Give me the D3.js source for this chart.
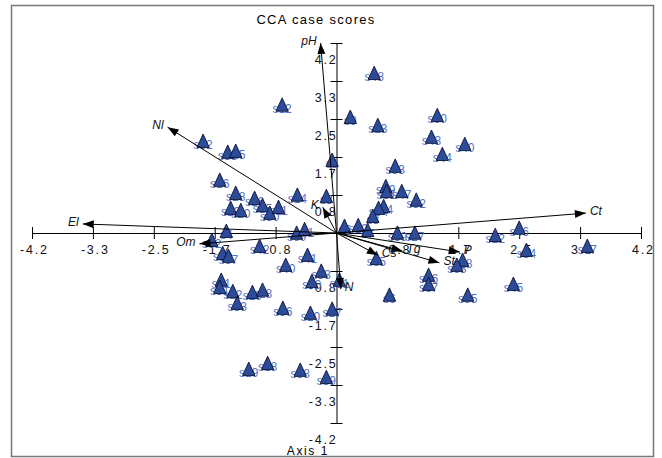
<!DOCTYPE html>
<html>
<head>
  <meta charset="utf-8">
  <script src="https://d3js.org/d3.v7.min.js"></script>
  <style>
  body {
    margin: 0;
    background: #fff;
  }
  svg text {
    font-family: "Liberation Sans", Arial, sans-serif;
  }
  .axis text {
    font-size: 12.5px;
    letter-spacing: 1.8px;
    fill: #111;
  }
  .axis line, .axis path {
    stroke: #000;
    stroke-width: 1;
  }
  .site-label {
    font-size: 12px;
    fill: #5572c9;
  }
  .site {
    fill: #2d4b9b;
    stroke: #0b1330;
    stroke-width: 0.8;
  }
  .env-label {
    font-size: 12px;
    font-style: italic;
    fill: #111;
  }
</style>
</head>
<body>
<script>

  // site scores (axis 1, axis 2)
  var siteNames = [
    "s12","s52","s35","s25","s16","s28","s13","s20","s26","s15",
    "s30","s11","s14","s3","s2","s4","s62","s42","s60","s61",
    "s50","s57","s41","s40","s33","s70","s41","s51","s22","s33",
    "s29","s28","s36","s10","s17","s29","s18","s38","s39",
    "s48","s9","s23","s60","s43","s40","s44","s53","s19","s31",
    "s47","s32","s54","s64","s8","s10","s5","s7","s69","s27",
    "s22","s46","s34","s37","s18","s63","s56","s67","s45","s55",
    "s6","s65","s21"
  ];
  var axis1 = [
    -0.75,-1.84,-1.50,-1.39,-1.61,-1.39,-1.46,-1.32,-1.13,-1.02,
    -0.92,-0.80,-0.54,-0.14,-0.06,-1.52,-1.72,-1.06,-0.55,-0.44,
    -1.57,-1.49,-0.40,-0.70,-0.21,-0.34,-1.59,-1.61,-1.43,-1.37,
    -1.16,-1.02,-0.74,-0.36,-0.06,-1.21,-0.95,-0.50,-0.14,
    0.52,0.19,0.57,1.39,1.31,1.77,1.46,0.81,0.68,0.69,
    0.90,1.10,0.65,0.58,0.50,0.30,0.11,0.43,0.84,1.08,
    2.19,2.52,2.62,3.46,1.74,1.66,1.27,1.27,2.44,1.81,
    0.73,0.55,0.04
  ];
  var axis2 = [
    2.79,1.99,1.75,1.77,1.13,0.84,0.51,0.46,0.73,0.57,
    0.40,0.53,0.80,0.77,1.57,0.00,-0.20,-0.33,-0.04,0.04,
    -0.49,-0.55,-0.53,-0.75,-0.88,-1.11,-1.08,-1.24,-1.33,-1.59,
    -1.35,-1.30,-1.70,-1.81,-1.72,-3.05,-2.92,-3.07,-3.23,
    3.49,2.52,2.34,2.56,2.08,1.92,1.70,1.44,0.99,0.88,
    0.88,0.69,0.55,0.51,0.33,0.13,0.11,0.02,-0.04,-0.04,
    -0.09,0.07,-0.42,-0.33,-0.64,-0.75,-0.97,-1.17,-1.17,-1.41,
    -1.41,-0.60,-1.08
  ];

  // environmental variables (biplot arrows)
  var envNames = ["pH","Nl","El","Om","K","Ct","Cs","Tg","P","St","N"];
  var envAxis1 = [-0.22,-2.33,-3.50,-1.89,-0.19,3.44,0.57,0.91,1.70,1.42,0.06];
  var envAxis2 = [4.20,2.34,0.20,-0.24,0.57,0.44,-0.49,-0.40,-0.42,-0.66,-1.24];

  var tickValues = [-4.2,-3.36,-2.52,-1.68,-0.84,0,0.84,1.68,2.52,3.36,4.2];
  var tickLabels = ["-4.2","-3.3","-2.5","-1.7","-0.8","","0.8","1.7","2.5","3.3","4.2"];

  var width = 662, height = 458;

  var svg = d3.select("body").append("svg")
    .attr("width", width)
    .attr("height", height);

  var x = d3.scaleLinear().domain([-4.2, 4.2]).range([32, 641]);
  var y = d3.scaleLinear().domain([-4.2, 4.2]).range([423, 43]);

  // frame
  svg.append("rect")
    .attr("x", 11.5).attr("y", 5.5)
    .attr("width", 642).attr("height", 451)
    .attr("fill", "none")
    .attr("stroke", "#777")
    .attr("stroke-width", 1.5);

  svg.append("text")
    .attr("x", 316).attr("y", 24)
    .attr("text-anchor", "middle")
    .style("font-size", "13px")
    .style("letter-spacing", "1.3px")
    .text("CCA case scores");

  var xAxis = d3.axisBottom(x).tickValues(tickValues)
    .tickFormat((d, i) => tickLabels[i]).tickSizeInner(0).tickSizeOuter(0);
  var yAxis = d3.axisLeft(y).tickValues(tickValues)
    .tickFormat((d, i) => tickLabels[i]).tickSizeInner(0).tickSizeOuter(0);

  var gx = svg.append("g")
    .attr("class", "axis")
    .attr("transform", "translate(0," + y(0) + ")")
    .call(xAxis);
  gx.selectAll(".tick line").attr("y1", -6).attr("y2", 6)
    .filter(d => d === 0).remove();
  gx.selectAll(".tick text").attr("y", 21).attr("dy", null)
    .attr("dx", "0.15em");

  var gy = svg.append("g")
    .attr("class", "axis")
    .attr("transform", "translate(" + x(0) + ",0)")
    .call(yAxis);
  gy.selectAll(".tick line").attr("x1", -6).attr("x2", 6)
    .filter(d => d === 0).remove();
  gy.selectAll(".tick text").attr("x", 1).attr("y", 20).attr("dy", null);
  gx.select(".domain").attr("fill", "none");
  gy.select(".domain").attr("fill", "none");

  svg.append("text")
    .attr("x", 308).attr("y", 455)
    .attr("text-anchor", "middle")
    .style("font-size", "12px")
    .style("letter-spacing", "1.6px")
    .text("Axis 1");

  var sites = siteNames.map((n, i) => ({name: n, a1: axis1[i], a2: axis2[i]}));

  svg.selectAll(".site-label")
    .data(sites)
    .enter().append("text")
    .attr("class", "site-label")
    .attr("x", d => x(d.a1))
    .attr("y", d => y(d.a2) + 6)
    .attr("text-anchor", "middle")
    .text(d => d.name);

  var tri = d3.symbol().type(d3.symbolTriangle).size(66);
  svg.selectAll(".site")
    .data(sites)
    .enter().append("path")
    .attr("class", "site")
    .attr("d", tri)
    .attr("transform", d => "translate(" + x(d.a1) + "," + y(d.a2) + ") scale(1,1.25)");

  // arrows
  var env = envNames.map((n, i) => ({name: n, a1: envAxis1[i], a2: envAxis2[i]}));
  var x0 = x(0), y0 = y(0);

  svg.selectAll(".env")
    .data(env)
    .enter().append("line")
    .attr("class", "env")
    .attr("x1", x0).attr("y1", y0)
    .attr("x2", d => x(d.a1)).attr("y2", d => y(d.a2))
    .attr("stroke", "#000")
    .attr("stroke-width", 1);

  svg.selectAll(".head")
    .data(env)
    .enter().append("path")
    .attr("class", "head")
    .attr("fill", "#000")
    .attr("d", d => {
      var tx = x(d.a1), ty = y(d.a2);
      var ang = Math.atan2(ty - y0, tx - x0);
      var len = 11, w = 4;
      var bx = tx - len * Math.cos(ang), by = ty - len * Math.sin(ang);
      var px = -Math.sin(ang) * w, py = Math.cos(ang) * w;
      return "M" + tx + "," + ty + "L" + (bx + px) + "," + (by + py) +
        "L" + (bx - px) + "," + (by - py) + "Z";
    });

  svg.selectAll(".env-label")
    .data(env)
    .enter().append("text")
    .attr("class", "env-label")
    .attr("x", d => x(d.a1) + (d.a1 < 0 ? -4 : 4))
    .attr("y", d => y(d.a2) + 2)
    .attr("text-anchor", d => d.a1 < 0 ? "end" : "start")
    .text(d => d.name);

</script>
</body>
</html>
